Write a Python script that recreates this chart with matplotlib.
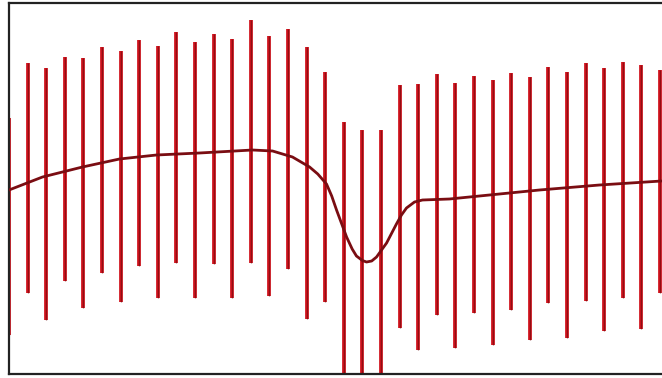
import numpy as np
import matplotlib
matplotlib.use("Agg")
import matplotlib.pyplot as plt


###
# Data: one vertical range per station, plus the fitted trend
###
station = np.arange(36)

range_hi = [25.6, 31.1, 30.6, 31.7, 31.6, 32.7, 32.3, 33.4, 32.8, 34.2,
            33.2, 34.0, 33.5, 35.4, 33.8, 34.5, 32.7, 30.2, 25.2, 24.4,
            24.4, 28.9, 29.0, 30.0, 29.1, 29.8, 29.4, 30.1, 29.7, 30.7,
            30.2, 31.1, 30.6, 31.2, 30.9, 30.4]

range_lo = [3.9, 8.1, 5.4, 9.3, 6.6, 10.1, 7.2, 10.8, 7.6, 11.1,
            7.6, 11.0, 7.6, 11.1, 7.8, 10.5, 5.5, 7.2, -1.0, -1.0,
            -1.0, 4.6, 2.4, 5.9, 2.6, 6.1, 2.9, 6.4, 3.4, 7.1,
            3.6, 7.3, 4.3, 7.6, 4.5, 8.1]

trend_x = [0.0, 1.8, 3.95, 5.94, 7.93, 10.24, 13.09, 14.17, 15.24, 16.16,
           16.6, 17.07, 17.35, 17.61, 18.15, 18.45, 18.68, 19.0, 19.22, 19.5,
           19.76, 20.3, 20.83, 21.1, 21.37, 21.8, 22.23, 23.68, 25.83, 28.52,
           31.75, 35.08]
trend_y = [18.4, 19.7, 20.7, 21.5, 21.9, 22.1, 22.4, 22.3, 21.7, 20.7,
           20.0, 19.0, 17.8, 16.4, 13.7, 12.5, 11.8, 11.35, 11.2, 11.3,
           11.7, 13.1, 15.0, 15.9, 16.6, 17.2, 17.4, 17.5, 17.9, 18.4,
           18.9, 19.3]


fig = plt.figure(figsize=(6.62, 3.78), dpi=100)
# axes run a little past the right edge of the figure
ax = fig.add_axes([9 / 662, 4 / 378, 36 * 18.6 / 662, 371 / 378])

ax.vlines(station, range_lo, range_hi, colors="#d0121c", linewidth=2.7, zorder=2)
ax.vlines(station, range_lo, range_hi, colors="#6a0a0e", linewidth=0.9,
          alpha=0.6, zorder=2.1)
ax.plot(trend_x, trend_y, color="#7a0d12", linewidth=2.0, zorder=3,
        solid_capstyle="round", solid_joinstyle="round")

ax.set_xlim(0, 36)
ax.set_ylim(0, 37.1)
ax.set_xticks([])
ax.set_yticks([])
for side in ax.spines.values():
    side.set_color("#222222")
    side.set_linewidth(1.6)

fig.savefig("out.png", dpi=100)
